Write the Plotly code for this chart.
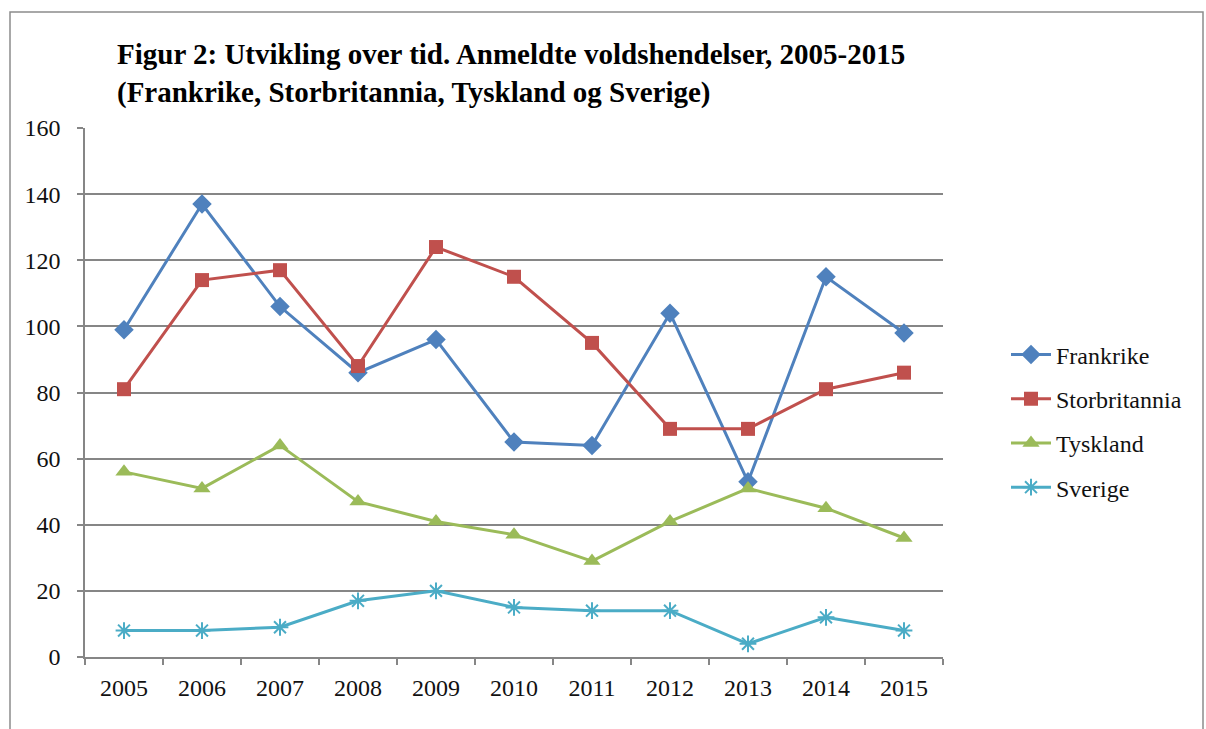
import plotly.graph_objects as go

years = ["2005", "2006", "2007", "2008", "2009", "2010", "2011", "2012", "2013", "2014", "2015"]
frankrike = [99, 137, 106, 86, 96, 65, 64, 104, 53, 115, 98]
storbritannia = [81, 114, 117, 88, 124, 115, 95, 69, 69, 81, 86]
tyskland = [56, 51, 64, 47, 41, 37, 29, 41, 51, 45, 36]
sverige = [8, 8, 9, 17, 20, 15, 14, 14, 4, 12, 8]

series = [
    ("Frankrike", frankrike, "#4F81BD", "diamond", 15),
    ("Storbritannia", storbritannia, "#C0504D", "square", 14),
    ("Tyskland", tyskland, "#9BBB59", "triangle-up", 15),
    ("Sverige", sverige, "#4BACC6", "asterisk-open", 14),
]

FONT = "Liberation Serif"
fig = go.Figure()
for name, vals, col, sym, size in series:
    marker = dict(symbol=sym, size=size, color=col)
    if sym.startswith("asterisk"):
        marker["line"] = dict(color=col, width=2)
    fig.add_trace(go.Scatter(x=years, y=vals, name=name, mode="lines+markers",
                             legendgroup=name,
                             line=dict(color=col, width=3), marker=marker))

fig.update_layout(
    width=1206, height=729,
    margin=dict(l=85, r=263, t=128, b=72),
    paper_bgcolor="white", plot_bgcolor="white",
    font=dict(family=FONT, size=24, color="#111111"),
    title=dict(text="<b>Figur 2: Utvikling over tid. Anmeldte voldshendelser, 2005-2015<br>(Frankrike, Storbritannia, Tyskland og Sverige)</b>",
               x=117/1206, xanchor="left", y=1-64/729, yanchor="top",
               font=dict(family=FONT, size=29, color="#000000")),
    legend=dict(x=(1006-85)/858, y=1-(421-128)/529, xanchor="left", yanchor="middle",
                font=dict(family=FONT, size=24), tracegroupgap=10,
                itemwidth=40, bgcolor="rgba(0,0,0,0)"),
    showlegend=True,
    shapes=[dict(type="rect", xref="paper", yref="paper",
                 x0=-75/858, x1=(1203-85)/858, y0=-0.2, y1=1+(128-12)/529,
                 line=dict(color="#8C8C8C", width=1.5), fillcolor="rgba(0,0,0,0)", layer="below")],
)
fig.update_xaxes(type="category", range=[-0.5, 10.5], showgrid=False,
                 showline=True, linecolor="#868686", linewidth=1.5,
                 ticks="outside", ticklen=6, tickcolor="#868686", tickwidth=1.5,
                 tickson="boundaries", ticklabelstandoff=8, tickfont=dict(size=24))
fig.update_yaxes(range=[0, 160], dtick=20, showgrid=True, gridcolor="#868686", gridwidth=1.5,
                 showline=True, linecolor="#868686", linewidth=1.5,
                 ticks="outside", ticklen=6, tickcolor="#868686", tickwidth=1.5,
                 ticklabelstandoff=12, zeroline=False, tickfont=dict(size=24))
fig.write_html("out.html", config={"displayModeBar": False},
               post_script="document.body.style.margin='0px';")
